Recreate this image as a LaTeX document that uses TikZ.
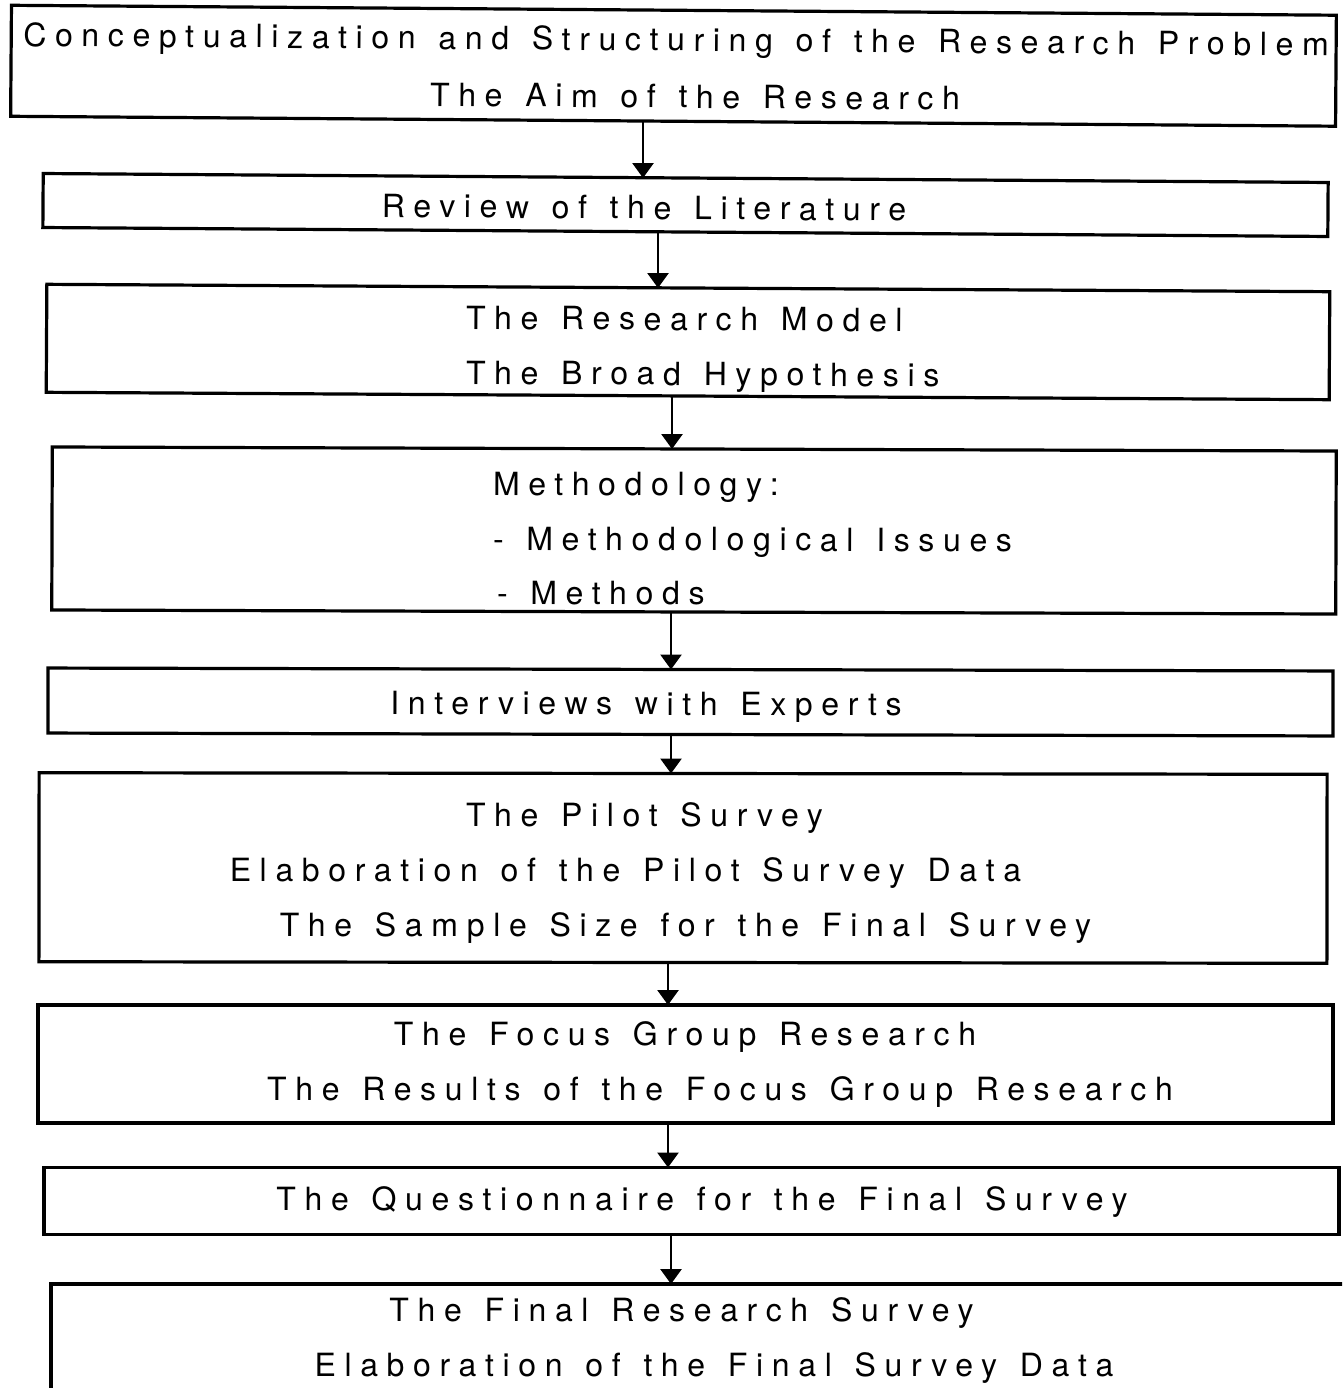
\documentclass[tikz,border=0pt]{standalone}
\usepackage{fontspec}
\setmainfont[LetterSpace=27,WordSpace=1.3]{TeX Gyre Heros}
\usetikzlibrary{arrows.meta}
\begin{document}
\begin{tikzpicture}[x=1pt,y=-1pt,
  stepbox/.style={draw=black, line width=3.2pt, inner sep=0pt, outer sep=0pt},
  txt/.style={font=\fontsize{32}{38}\selectfont, inner sep=0pt, outer sep=0pt, anchor=base},
  ltxt/.style={txt, anchor=base west},
  flow/.style={line width=2.8pt, -{Triangle[width=21pt,length=15pt]}}]
\useasboundingbox (0,0) rectangle (1342,1388);
\clip (0,0) rectangle (1342,1388);

% boxes of the research steps
\node[stepbox, rotate=-0.43, minimum width=1325pt, minimum height=111pt] (b1) at (673.5,65.75) {};
\node[stepbox, rotate=-0.40, minimum width=1285pt, minimum height=54pt]  (b2) at (685.5,205) {};
\node[stepbox, rotate=-0.33, minimum width=1283pt, minimum height=108pt] (b3) at (688,342) {};
\node[stepbox, rotate=-0.18, minimum width=1284pt, minimum height=163pt] (b4) at (694,530.5) {};
\node[stepbox, rotate=-0.13, minimum width=1285pt, minimum height=65pt]  (b5) at (690.5,702) {};
\node[stepbox, rotate=-0.07, minimum width=1288pt, minimum height=189pt] (b6) at (683,868) {};
\node[stepbox, minimum width=1295pt, minimum height=118pt] (b7) at (685.5,1064) {};
\node[stepbox, minimum width=1295pt, minimum height=67pt]  (b8) at (691.5,1201) {};
\node[stepbox, minimum width=1310pt, minimum height=105.5pt] (b9) at (706,1336.75) {};

% texts
\node[txt, rotate=-0.43] (t1a) at (676,51) {Conceptualization and Structuring of the Research Problem};
\node[txt, rotate=-0.43] (t1b) at (695,108) {The Aim of the Research};
\node[txt, rotate=-0.40] (t2)  at (644,219) {Review of the Literature};
\node[ltxt, rotate=-0.33] (t3a) at (466,329) {The Research Model};
\node[ltxt, rotate=-0.33] (t3b) at (466,384) {The Broad Hypothesis};
\node[ltxt, rotate=-0.18] (t4a) at (493,495) {Methodology:};
\node[ltxt, rotate=-0.18] (t4b) at (493,550) {- Methodological Issues};
\node[ltxt, rotate=-0.18] (t4c) at (497,604) {- Methods};
\node[txt, rotate=-0.13] (t5)  at (646,715) {Interviews with Experts};
\node[txt] (t6a) at (644.5,826) {The Pilot Survey};
\node[txt] (t6b) at (625.5,881) {Elaboration of the Pilot Survey Data};
\node[txt] (t6c) at (685.5,936) {The Sample Size for the Final Survey};
\node[txt] (t7a) at (685,1045) {The Focus Group Research};
\node[txt] (t7b) at (720,1100) {The Results of the Focus Group Research};
\node[txt] (t8)  at (702,1210) {The Questionnaire for the Final Survey};
\node[txt] (t9a) at (681.5,1321) {The Final Research Survey};
\node[txt] (t9b) at (714,1376) {Elaboration of the Final Survey Data};

% connectors
\draw[flow] (643,0 |- b1.south) -- (643,0 |- b2.north);
\draw[flow] (658,0 |- b2.south) -- (658,0 |- b3.north);
\draw[flow] (672,0 |- b3.south) -- (672,0 |- b4.north);
\draw[flow] (671,0 |- b4.south) -- (671,0 |- b5.north);
\draw[flow] (671,0 |- b5.south) -- (671,0 |- b6.north);
\draw[flow] (668,0 |- b6.south) -- (668,0 |- b7.north);
\draw[flow] (668,0 |- b7.south) -- (668,0 |- b8.north);
\draw[flow] (671,0 |- b8.south) -- (671,0 |- b9.north);
\end{tikzpicture}
\end{document}
